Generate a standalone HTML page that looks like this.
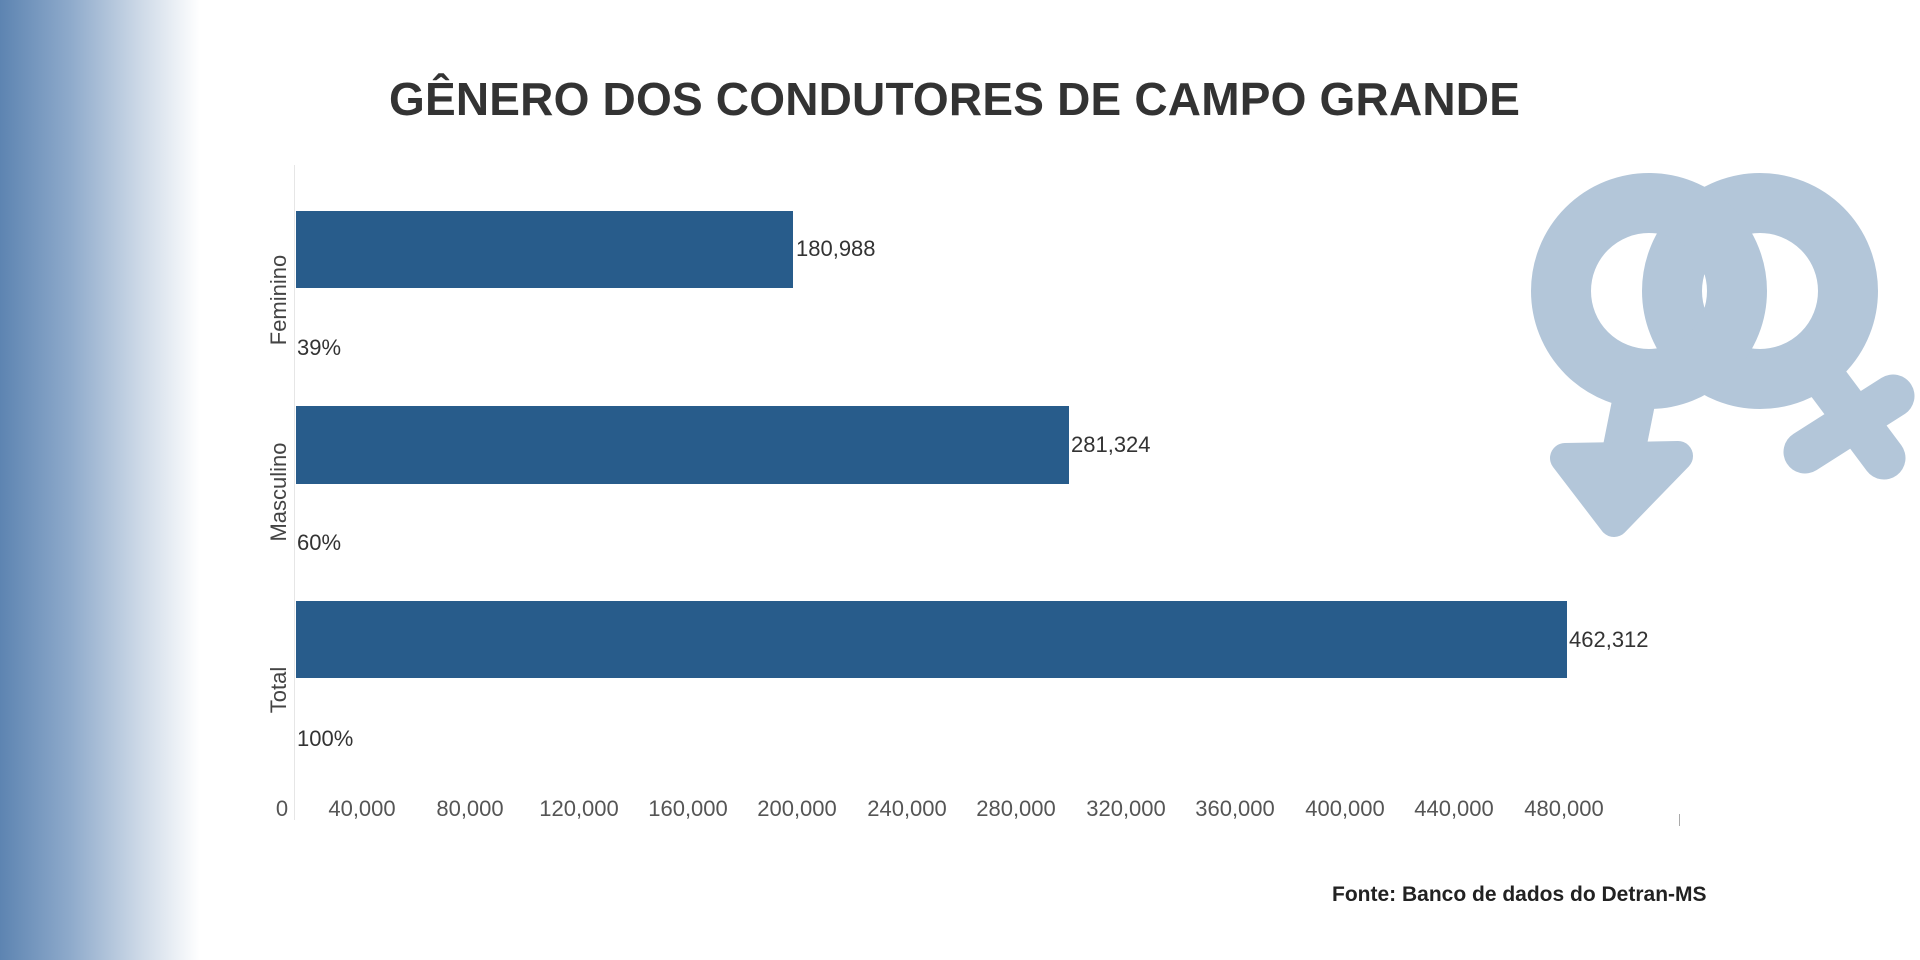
<!DOCTYPE html>
<html><head><meta charset="utf-8"><style>
html,body{margin:0;padding:0}
body{width:1920px;height:960px;position:relative;overflow:hidden;background:#fff;font-family:"Liberation Sans",sans-serif}
.grad{position:absolute;left:0;top:0;width:200px;height:960px;background:linear-gradient(to right,#5d84b1 0%,#8eaacb 35%,#cdd9e7 70%,#fff 100%)}
.t{position:absolute;white-space:nowrap}
.bar{position:absolute;left:296px;background:#285c8b}
.val{position:absolute;font-size:22px;color:#333}
.cat{position:absolute;font-size:22px;color:#444;transform:translate(-50%,-50%) rotate(-90deg);white-space:nowrap}
.tick{position:absolute;top:796px;font-size:22px;color:#555;transform:translateX(-50%);white-space:nowrap}
</style></head><body>
<div class="grad"></div>
<div class="t" style="left:389px;top:72px;font-size:46px;font-weight:bold;color:#333;letter-spacing:0.2px">GÊNERO DOS CONDUTORES DE CAMPO GRANDE</div>
<div style="position:absolute;left:294px;top:165px;width:1px;height:655px;background:#e6e6e6"></div>
<div class="bar" style="top:211px;width:497px;height:77px"></div>
<div class="bar" style="top:406px;width:773px;height:78px"></div>
<div class="bar" style="top:601px;width:1271px;height:77px"></div>
<div class="val" style="left:796px;top:236px">180,988</div>
<div class="val" style="left:1071px;top:432px">281,324</div>
<div class="val" style="left:1569px;top:627px">462,312</div>
<div class="val" style="left:297px;top:335px">39%</div>
<div class="val" style="left:297px;top:530px">60%</div>
<div class="val" style="left:297px;top:726px">100%</div>
<div class="cat" style="left:279px;top:300px">Feminino</div>
<div class="cat" style="left:279px;top:492px">Masculino</div>
<div class="cat" style="left:279px;top:690px">Total</div>
<div class="tick" style="left:282px">0</div>
<div class="tick" style="left:362px">40,000</div>
<div class="tick" style="left:470px">80,000</div>
<div class="tick" style="left:579px">120,000</div>
<div class="tick" style="left:688px">160,000</div>
<div class="tick" style="left:797px">200,000</div>
<div class="tick" style="left:907px">240,000</div>
<div class="tick" style="left:1016px">280,000</div>
<div class="tick" style="left:1126px">320,000</div>
<div class="tick" style="left:1235px">360,000</div>
<div class="tick" style="left:1345px">400,000</div>
<div class="tick" style="left:1454px">440,000</div>
<div class="tick" style="left:1564px">480,000</div>
<div style="position:absolute;left:1679px;top:814px;width:1px;height:12px;background:#aaa"></div>
<div class="t" style="left:1332px;top:883px;font-size:21px;font-weight:bold;color:#222">Fonte: Banco de dados do Detran-MS</div>
<svg style="position:absolute;left:0;top:0" width="1920" height="960">
<g stroke="#b3c6d9" fill="none" stroke-linejoin="round">
<circle cx="1760" cy="291" r="88" stroke-width="60"/>
<line x1="1822" y1="375" x2="1884" y2="458" stroke-width="43" stroke-linecap="round"/>
<line x1="1805" y1="452" x2="1893" y2="396" stroke-width="43" stroke-linecap="round"/>
<circle cx="1649" cy="291" r="88" stroke-width="60"/>
<line x1="1636" y1="390" x2="1618" y2="480" stroke-width="43" stroke-linecap="round"/>
<polygon points="1614,522 1565,458 1678,456" fill="#b3c6d9" stroke-width="30"/>
</g>
</svg>
</body></html>
